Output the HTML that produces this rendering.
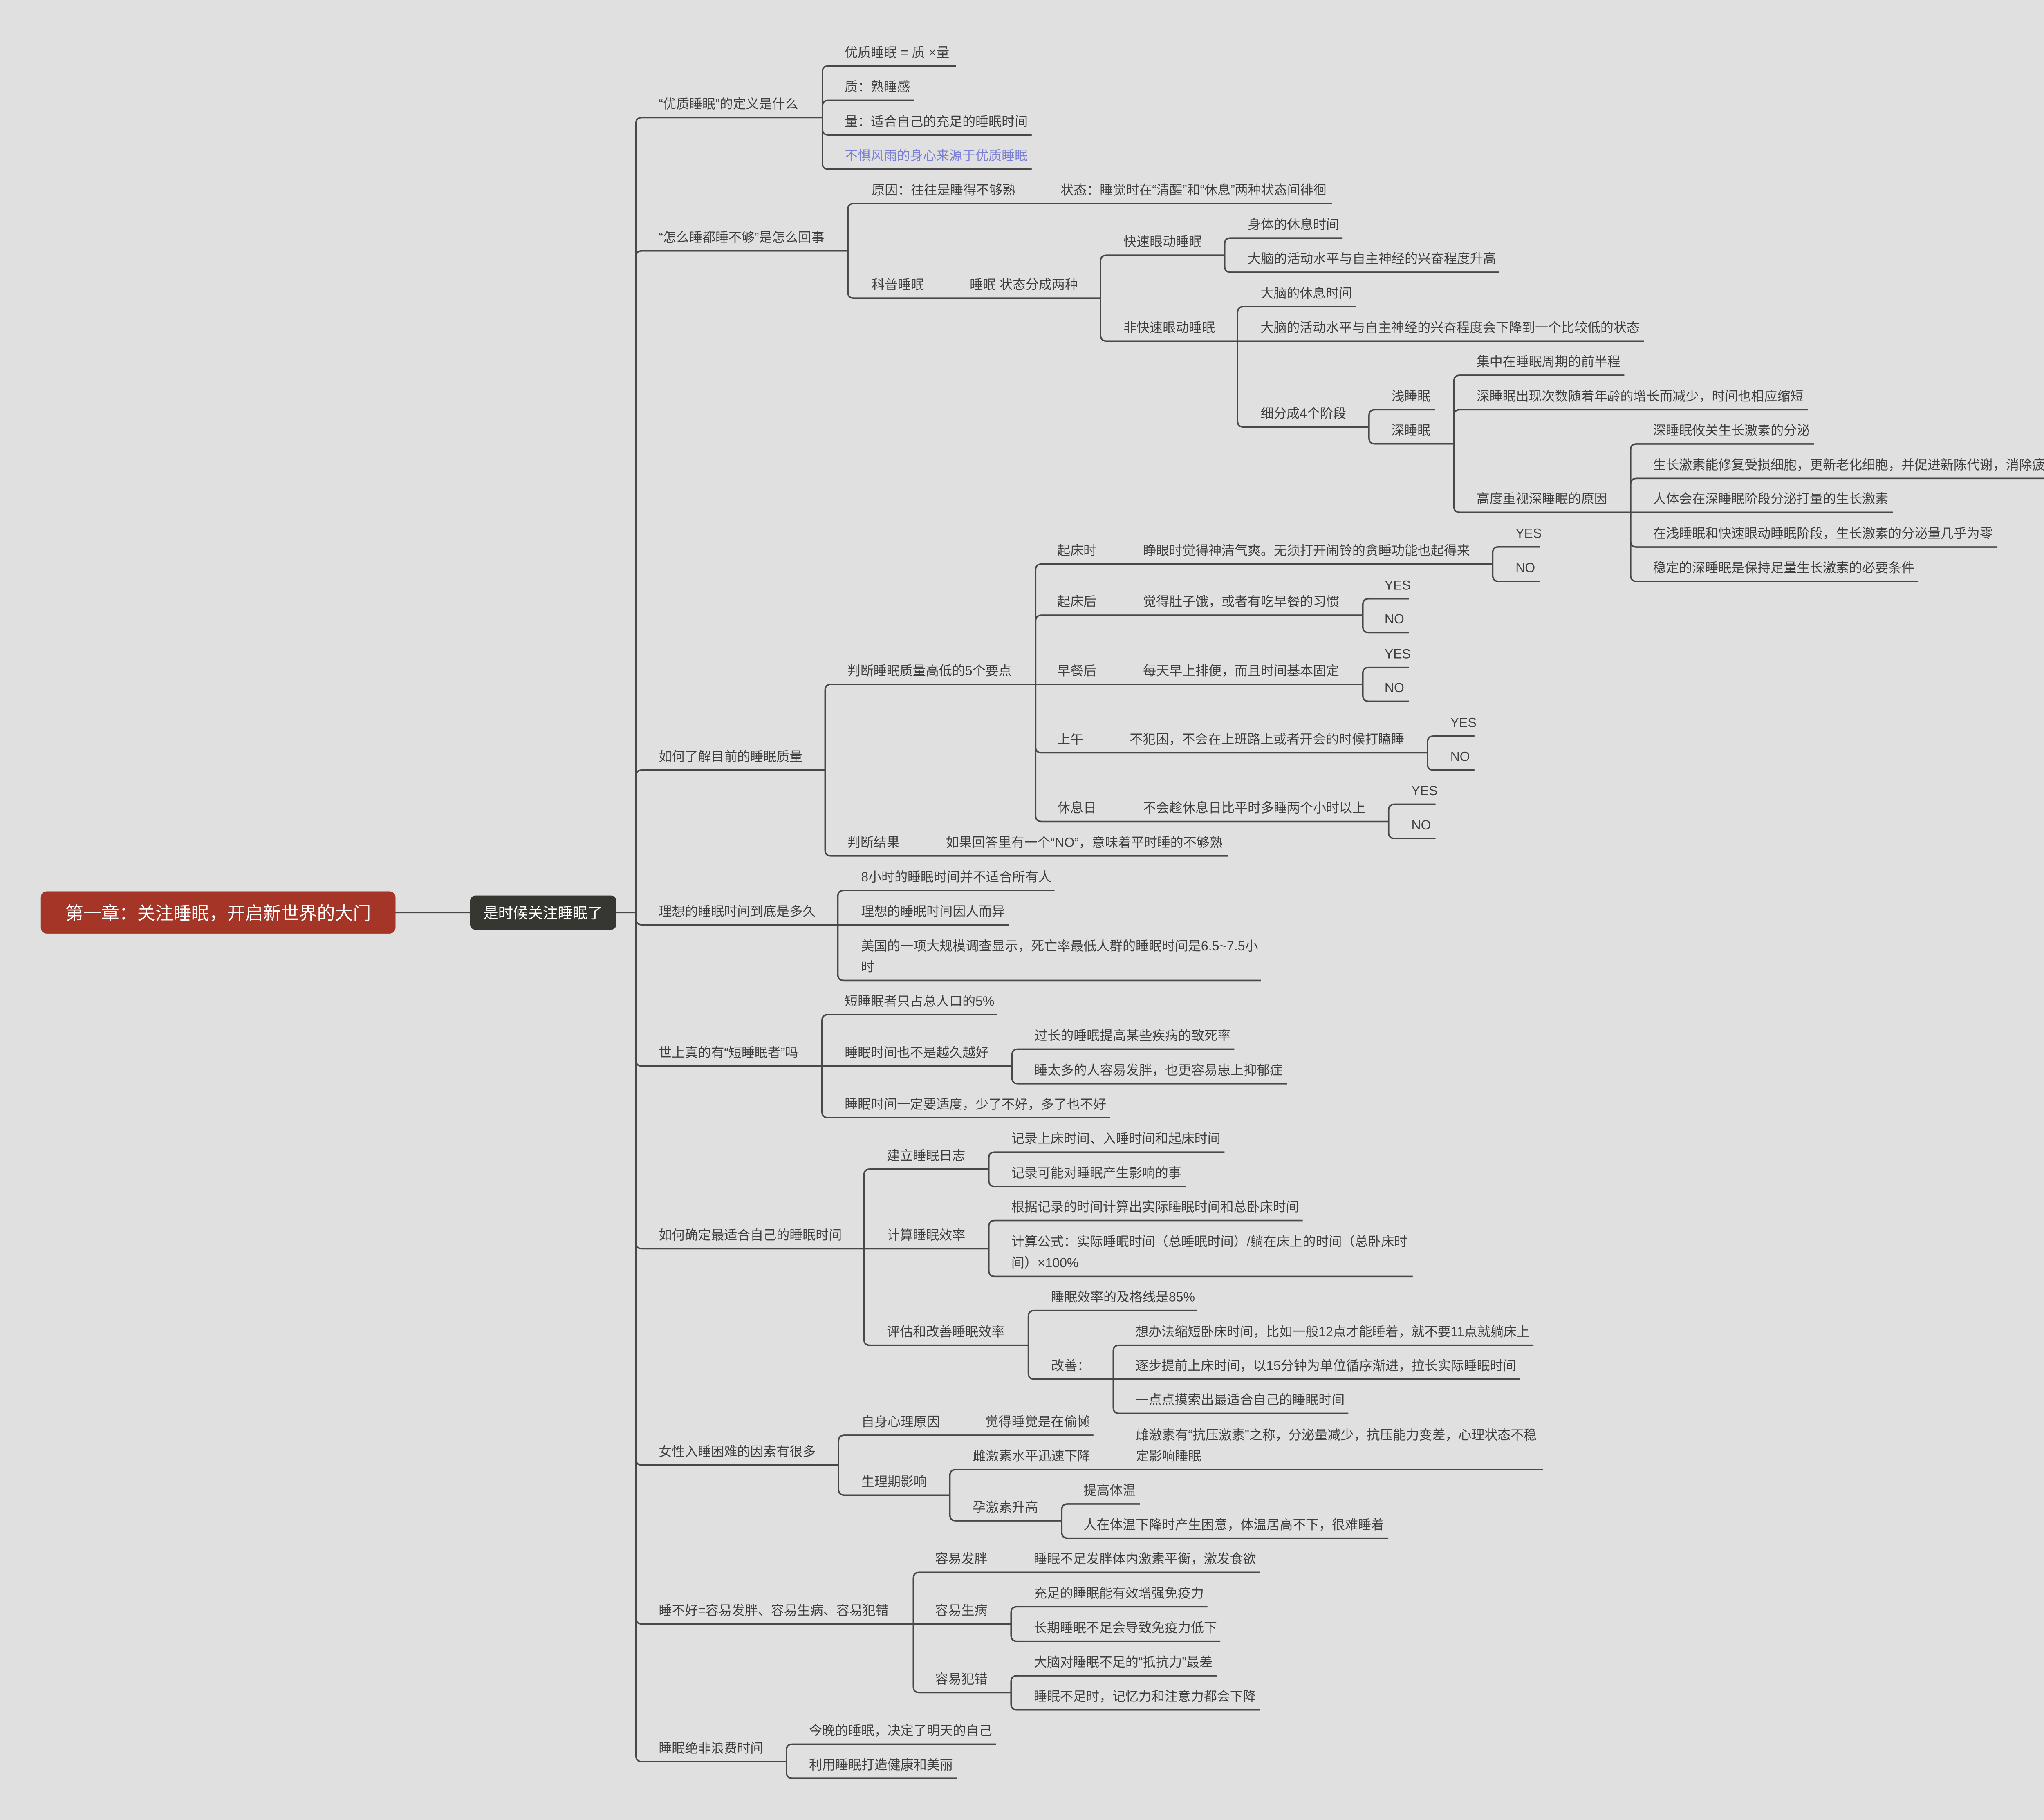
<!DOCTYPE html>
<html>
<head>
<meta charset="utf-8">
<style>
html,body{margin:0;padding:0;background:#e0e0e0;}
svg{display:block;}
.t{font-family:"Liberation Sans","Noto Sans CJK SC",sans-serif;font-size:9.75px;fill:#3f3f3f;}
.b{fill:#7a7fd6;}
.l{fill:none;stroke:#48484c;stroke-width:1.1;}
</style>
</head>
<body>
<svg width="5146" height="4452" viewBox="0 0 1568 1356.54" preserveAspectRatio="none" xmlns="http://www.w3.org/2000/svg">
<rect x="0" y="0" width="1568" height="1356.54" fill="#e0e0e0"/>

<g class="l">
<!-- root to main -->
<path d="M294.8 680.2H350.4"/>
<path d="M459.4 680.2H474"/>
<!-- trunk -->
<path d="M474 680.2V92.1Q474 87.6 478.5 87.6H613"/>
<path d="M474 680.2V191.5Q474 187 478.5 187H632"/>
<path d="M474 680.2V578.5Q474 574 478.5 574H615"/>
<path d="M474 680.2V684.8Q474 689.3 478.5 689.3H624.5"/>
<path d="M474 680.2V790.1Q474 794.6 478.5 794.6H612.7"/>
<path d="M474 680.2V926.2Q474 930.7 478.5 930.7H644"/>
<path d="M474 680.2V1087.5Q474 1092 478.5 1092H625"/>
<path d="M474 680.2V1205.9Q474 1210.4 478.5 1210.4H680.8"/>
<path d="M474 680.2V1308.5Q474 1313 478.5 1313H586.2"/>

<!-- node1 -->
<path d="M613 87.6V53.7Q613 49.2 617.5 49.2H712.5"/>
<path d="M613 87.6V79.3Q613 74.8 617.5 74.8H681"/>
<path d="M613 87.6V96.1Q613 100.6 617.5 100.6H769"/>
<path d="M613 87.6V121.6Q613 126.1 617.5 126.1H769"/>

<!-- node2 -->
<path d="M632 187V156.2Q632 151.7 636.5 151.7H993"/>
<path d="M632 187V217.7Q632 222.2 636.5 222.2H820.3"/>
<path d="M820.3 222.2V194.7Q820.3 190.2 824.8 190.2H912.8"/>
<path d="M820.3 222.2V249.7Q820.3 254.2 824.8 254.2H922.4"/>
<path d="M912.8 190.2V181.9Q912.8 177.4 917.3 177.4H1000.7"/>
<path d="M912.8 190.2V198.4Q912.8 202.9 917.3 202.9H1117.6"/>
<path d="M922.4 254.2V233.1Q922.4 228.6 926.9 228.6H1010.5"/>
<path d="M922.4 254.2H1225.5"/>
<path d="M922.4 254.2V313.7Q922.4 318.2 926.9 318.2H1020.4"/>
<path d="M1020.4 318.2V309.9Q1020.4 305.4 1024.9 305.4H1069.6"/>
<path d="M1020.4 318.2V326.3Q1020.4 330.8 1024.9 330.8H1083.7"/>
<path d="M1083.7 330.8V284.2Q1083.7 279.7 1088.2 279.7H1210.7"/>
<path d="M1083.7 330.8V309.9Q1083.7 305.4 1088.2 305.4H1347.4"/>
<path d="M1083.7 330.8V377.4Q1083.7 381.9 1088.2 381.9H1215.4"/>
<path d="M1215.4 381.9V335.4Q1215.4 330.9 1219.9 330.9H1352"/>
<path d="M1215.4 381.9V361.1Q1215.4 356.6 1219.9 356.6H1537.6"/>
<path d="M1215.4 381.9H1411"/>
<path d="M1215.4 381.9V403.2Q1215.4 407.7 1219.9 407.7H1488.8"/>
<path d="M1215.4 381.9V428.8Q1215.4 433.3 1219.9 433.3H1430"/>

<!-- node3 -->
<path d="M615 574V514.5Q615 510 619.5 510H771.9"/>
<path d="M615 574V633.5Q615 638 619.5 638H915.6"/>
<path d="M771.9 510V424.9Q771.9 420.4 776.4 420.4H1112.6"/>
<path d="M771.9 510V463.1Q771.9 458.6 776.4 458.6H1015.8"/>
<path d="M771.9 510H1015.8"/>
<path d="M771.9 510V556.6Q771.9 561.1 776.4 561.1H1064"/>
<path d="M771.9 510V607.8Q771.9 612.3 776.4 612.3H1035"/>
<path d="M1112.6 420.4V412.1Q1112.6 407.6 1117.1 407.6H1148"/>
<path d="M1112.6 420.4V428.8Q1112.6 433.3 1117.1 433.3H1148"/>
<path d="M1015.8 458.6V450.8Q1015.8 446.3 1020.3 446.3H1050"/>
<path d="M1015.8 458.6V467Q1015.8 471.5 1020.3 471.5H1050"/>
<path d="M1015.8 510V502Q1015.8 497.5 1020.3 497.5H1050"/>
<path d="M1015.8 510V518.2Q1015.8 522.7 1020.3 522.7H1050"/>
<path d="M1064 561.1V553.2Q1064 548.7 1068.5 548.7H1099"/>
<path d="M1064 561.1V569.5Q1064 574 1068.5 574H1099"/>
<path d="M1035 612.3V604Q1035 599.5 1039.5 599.5H1070"/>
<path d="M1035 612.3V620.5Q1035 625 1039.5 625H1070"/>

<!-- node4 -->
<path d="M624.5 689.3V668.2Q624.5 663.7 629 663.7H786"/>
<path d="M624.5 689.3H752"/>
<path d="M624.5 689.3V726.3Q624.5 730.8 629 730.8H939.8"/>

<!-- node5 -->
<path d="M612.7 794.6V760.8Q612.7 756.3 617.2 756.3H743"/>
<path d="M612.7 794.6H754.3"/>
<path d="M612.7 794.6V828.6Q612.7 833.1 617.2 833.1H827.3"/>
<path d="M754.3 794.6V786.5Q754.3 782 758.8 782H920"/>
<path d="M754.3 794.6V803.2Q754.3 807.7 758.8 807.7H959.4"/>

<!-- node6 -->
<path d="M644 930.7V875.9Q644 871.4 648.5 871.4H737"/>
<path d="M644 930.7H737"/>
<path d="M644 930.7V998.2Q644 1002.7 648.5 1002.7H766.5"/>
<path d="M737 871.4V863.2Q737 858.7 741.5 858.7H912.7"/>
<path d="M737 871.4V879.8Q737 884.3 741.5 884.3H883.8"/>
<path d="M737 930.7V914.2Q737 909.7 741.5 909.7H971"/>
<path d="M737 930.7V946.9Q737 951.4 741.5 951.4H1053"/>
<path d="M766.5 1002.7V981.3Q766.5 976.8 771 976.8H892.3"/>
<path d="M766.5 1002.7V1023.5Q766.5 1028 771 1028H829.8"/>
<path d="M829.8 1028V1007.2Q829.8 1002.7 834.3 1002.7H1143"/>
<path d="M829.8 1028H1133"/>
<path d="M829.8 1028V1049Q829.8 1053.5 834.3 1053.5H1005"/>

<!-- node7 -->
<path d="M625 1092V1074.3Q625 1069.8 629.5 1069.8H815"/>
<path d="M625 1092V1109.9Q625 1114.4 629.5 1114.4H708"/>
<path d="M708 1114.4V1099.9Q708 1095.4 712.5 1095.4H1150"/>
<path d="M708 1114.4V1129Q708 1133.5 712.5 1133.5H791.4"/>
<path d="M791.4 1133.5V1125.5Q791.4 1121 795.9 1121H849.6"/>
<path d="M791.4 1133.5V1142Q791.4 1146.5 795.9 1146.5H1034.8"/>

<!-- node8 -->
<path d="M680.8 1210.4V1176.5Q680.8 1172 685.3 1172H939"/>
<path d="M680.8 1210.4H753.6"/>
<path d="M680.8 1210.4V1257.1Q680.8 1261.6 685.3 1261.6H753.6"/>
<path d="M753.6 1210.4V1202.1Q753.6 1197.6 758.1 1197.6H900"/>
<path d="M753.6 1210.4V1218.8Q753.6 1223.3 758.1 1223.3H909.6"/>
<path d="M753.6 1261.6V1253.5Q753.6 1249 758.1 1249H907"/>
<path d="M753.6 1261.6V1270Q753.6 1274.5 758.1 1274.5H939"/>

<!-- node9 -->
<path d="M586.2 1313V1304.5Q586.2 1300 590.7 1300H742.4"/>
<path d="M586.2 1313V1321Q586.2 1325.5 590.7 1325.5H713"/>
</g>

<!-- root & main boxes -->
<rect x="30.4" y="664.4" width="264.4" height="31.5" rx="4.5" ry="4.5" fill="#a53527"/>
<text x="162.6" y="685.3" text-anchor="middle" style="font-family:'Liberation Sans','Noto Sans CJK SC',sans-serif;font-size:13.4px;fill:#ffffff;">第一章：关注睡眠，开启新世界的大门</text>
<rect x="350.4" y="667.5" width="109" height="25.5" rx="4" ry="4" fill="#373732"/>
<text x="404.6" y="684.4" text-anchor="middle" style="font-family:'Liberation Sans','Noto Sans CJK SC',sans-serif;font-size:11.1px;fill:#ffffff;">是时候关注睡眠了</text>

<g class="t">
<!-- trunk children -->
<text x="491" y="80.8">“优质睡眠”的定义是什么</text>
<text x="491" y="180.2">“怎么睡都睡不够”是怎么回事</text>
<text x="491" y="567.2">如何了解目前的睡眠质量</text>
<text x="491" y="682.5">理想的睡眠时间到底是多久</text>
<text x="491" y="787.8">世上真的有“短睡眠者”吗</text>
<text x="491" y="923.9">如何确定最适合自己的睡眠时间</text>
<text x="491" y="1085.2">女性入睡困难的因素有很多</text>
<text x="491" y="1203.6">睡不好=容易发胖、容易生病、容易犯错</text>
<text x="491" y="1306.2">睡眠绝非浪费时间</text>

<!-- node1 -->
<text x="629.6" y="42.4">优质睡眠 = 质 ×量</text>
<text x="629.6" y="68">质：熟睡感</text>
<text x="629.6" y="93.8">量：适合自己的充足的睡眠时间</text>
<text x="629.6" y="119.3" class="b">不惧风雨的身心来源于优质睡眠</text>

<!-- node2 -->
<text x="649.7" y="144.9">原因：往往是睡得不够熟</text>
<text x="790.5" y="144.9">状态：睡觉时在“清醒”和“休息”两种状态间徘徊</text>
<text x="649.7" y="215.4">科普睡眠</text>
<text x="722.8" y="215.4">睡眠 状态分成两种</text>
<text x="837.4" y="183.4">快速眼动睡眠</text>
<text x="837.4" y="247.4">非快速眼动睡眠</text>
<text x="930" y="170.6">身体的休息时间</text>
<text x="930" y="196.1">大脑的活动水平与自主神经的兴奋程度升高</text>
<text x="939.5" y="221.8">大脑的休息时间</text>
<text x="939.5" y="247.4">大脑的活动水平与自主神经的兴奋程度会下降到一个比较低的状态</text>
<text x="939.5" y="311.4">细分成4个阶段</text>
<text x="1037" y="298.6">浅睡眠</text>
<text x="1037" y="324">深睡眠</text>
<text x="1100.5" y="272.9">集中在睡眠周期的前半程</text>
<text x="1100.5" y="298.6">深睡眠出现次数随着年龄的增长而减少，时间也相应缩短</text>
<text x="1100.5" y="375.1">高度重视深睡眠的原因</text>
<text x="1232" y="324.1">深睡眠攸关生长激素的分泌</text>
<text x="1232" y="349.8">生长激素能修复受损细胞，更新老化细胞，并促进新陈代谢，消除疲劳</text>
<text x="1232" y="375.1">人体会在深睡眠阶段分泌打量的生长激素</text>
<text x="1232" y="400.9">在浅睡眠和快速眼动睡眠阶段，生长激素的分泌量几乎为零</text>
<text x="1232" y="426.5">稳定的深睡眠是保持足量生长激素的必要条件</text>

<!-- node3 -->
<text x="631.6" y="503.2">判断睡眠质量高低的5个要点</text>
<text x="631.6" y="631.2">判断结果</text>
<text x="705" y="631.2">如果回答里有一个“NO”，意味着平时睡的不够熟</text>
<text x="788" y="413.6">起床时</text>
<text x="852" y="413.6">睁眼时觉得神清气爽。无须打开闹铃的贪睡功能也起得来</text>
<text x="788" y="451.8">起床后</text>
<text x="852" y="451.8">觉得肚子饿，或者有吃早餐的习惯</text>
<text x="788" y="503.2">早餐后</text>
<text x="852" y="503.2">每天早上排便，而且时间基本固定</text>
<text x="788" y="554.3">上午</text>
<text x="842" y="554.3">不犯困，不会在上班路上或者开会的时候打瞌睡</text>
<text x="788" y="605.5">休息日</text>
<text x="852" y="605.5">不会趁休息日比平时多睡两个小时以上</text>
<text x="1129.6" y="400.8">YES</text>
<text x="1129.6" y="426.5">NO</text>
<text x="1032" y="439.5">YES</text>
<text x="1032" y="464.7">NO</text>
<text x="1032" y="490.7">YES</text>
<text x="1032" y="515.9">NO</text>
<text x="1081" y="541.9">YES</text>
<text x="1081" y="567.2">NO</text>
<text x="1052" y="592.7">YES</text>
<text x="1052" y="618.2">NO</text>

<!-- node4 -->
<text x="641.8" y="656.9">8小时的睡眠时间并不适合所有人</text>
<text x="641.8" y="682.5">理想的睡眠时间因人而异</text>
<text x="641.8" y="708.4">美国的一项大规模调查显示，死亡率最低人群的睡眠时间是6.5~7.5小</text>
<text x="641.8" y="724">时</text>

<!-- node5 -->
<text x="629.6" y="749.5">短睡眠者只占总人口的5%</text>
<text x="629.6" y="787.8">睡眠时间也不是越久越好</text>
<text x="629.6" y="826.3">睡眠时间一定要适度，少了不好，多了也不好</text>
<text x="771" y="775.2">过长的睡眠提高某些疾病的致死率</text>
<text x="771" y="800.9">睡太多的人容易发胖，也更容易患上抑郁症</text>

<!-- node6 -->
<text x="661" y="864.6">建立睡眠日志</text>
<text x="661" y="923.9">计算睡眠效率</text>
<text x="661" y="995.9">评估和改善睡眠效率</text>
<text x="753.8" y="851.9">记录上床时间、入睡时间和起床时间</text>
<text x="753.8" y="877.5">记录可能对睡眠产生影响的事</text>
<text x="753.8" y="902.9">根据记录的时间计算出实际睡眠时间和总卧床时间</text>
<text x="753.8" y="928.8">计算公式：实际睡眠时间（总睡眠时间）/躺在床上的时间（总卧床时</text>
<text x="753.8" y="944.6">间）×100%</text>
<text x="783.4" y="970">睡眠效率的及格线是85%</text>
<text x="783.4" y="1021.2">改善：</text>
<text x="846.3" y="995.9">想办法缩短卧床时间，比如一般12点才能睡着，就不要11点就躺床上</text>
<text x="846.3" y="1021.2">逐步提前上床时间，以15分钟为单位循序渐进，拉长实际睡眠时间</text>
<text x="846.3" y="1046.7">一点点摸索出最适合自己的睡眠时间</text>

<!-- node7 -->
<text x="642" y="1063">自身心理原因</text>
<text x="734.5" y="1063">觉得睡觉是在偷懒</text>
<text x="642" y="1107.6">生理期影响</text>
<text x="725" y="1088.6">雌激素水平迅速下降</text>
<text x="846.6" y="1072.8">雌激素有“抗压激素”之称，分泌量减少，抗压能力变差，心理状态不稳</text>
<text x="846.6" y="1088.6">定影响睡眠</text>
<text x="725" y="1126.7">孕激素升高</text>
<text x="807.6" y="1114.2">提高体温</text>
<text x="807.6" y="1139.7">人在体温下降时产生困意，体温居高不下，很难睡着</text>

<!-- node8 -->
<text x="697" y="1165.2">容易发胖</text>
<text x="770.6" y="1165.2">睡眠不足发胖体内激素平衡，激发食欲</text>
<text x="697" y="1203.6">容易生病</text>
<text x="697" y="1254.8">容易犯错</text>
<text x="770.6" y="1190.8">充足的睡眠能有效增强免疫力</text>
<text x="770.6" y="1216.5">长期睡眠不足会导致免疫力低下</text>
<text x="770.6" y="1242.2">大脑对睡眠不足的“抵抗力”最差</text>
<text x="770.6" y="1267.7">睡眠不足时，记忆力和注意力都会下降</text>

<!-- node9 -->
<text x="603" y="1293.2">今晚的睡眠，决定了明天的自己</text>
<text x="603" y="1318.7">利用睡眠打造健康和美丽</text>
</g>
</svg>
</body>
</html>
